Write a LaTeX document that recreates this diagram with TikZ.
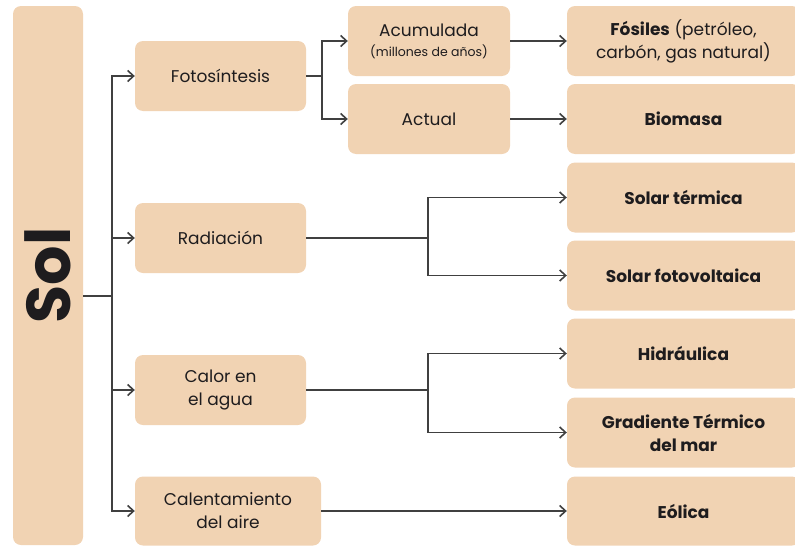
\documentclass[tikz,border=0pt]{standalone}
\usepackage{fontspec}
\setmainfont{Poppins}
\usepackage{graphicx}
\usetikzlibrary{arrows.meta}
\definecolor{durazno}{RGB}{241,211,179}
\definecolor{linea}{RGB}{64,64,64}
\definecolor{texto}{RGB}{30,28,30}
\tikzset{
  caja/.style={fill=durazno, rounded corners=8pt, text=texto, align=center,
    minimum height=70pt, inner sep=0pt, font=\fontsize{17}{23}\selectfont},
  fuente/.style={caja, minimum width=233pt, font=\fontsize{17}{23}\selectfont\bfseries},
  tramo/.style={draw=linea, line width=1.6pt},
  enlace/.style={tramo, -{Straight Barb[length=6pt,width=11pt]}}
}
\begin{document}
\begin{tikzpicture}[x=1pt,y=-1pt]
\useasboundingbox (0,0) rectangle (795,546);
\node[caja, minimum width=70pt, minimum height=539pt, font=\fontsize{62}{62}\selectfont\bfseries] (sol) at (48,275.5) {\rotatebox{90}{Sol}};
\node[caja, minimum width=171pt] (foto) at (220.5,76) {Fotosíntesis};
\node[caja, minimum width=171pt] (radia) at (220.5,238) {Radiación};
\node[caja, minimum width=171pt] (calor) at (220.5,390) {Calor en\\el agua};
\node[caja, minimum width=186pt, minimum height=69pt] (calent) at (228,511) {Calentamiento\\del aire};
\node[caja, minimum width=162pt] (acum) at (429,41) {Acumulada\\[-3pt]{\fontsize{12.5}{14}\selectfont(millones de años)}};
\node[caja, minimum width=162pt] (actual) at (429,119) {Actual};
\node[caja, minimum width=233pt] (fosiles) at (683.5,41) {{\bfseries Fósiles} (petróleo,\\carbón, gas natural)};
\node[fuente] (biomasa) at (683.5,119) {Biomasa};
\node[fuente] (stermica) at (683.5,197.5) {Solar térmica};
\node[fuente] (sfoto) at (683.5,275.5) {Solar fotovoltaica};
\node[fuente] (hidra) at (683.5,353.5) {Hidráulica};
\node[fuente] (gradi) at (683.5,432.5) {Gradiente Térmico\\del mar};
\node[fuente, minimum height=69pt] (eolica) at (683.5,511) {Eólica};
\coordinate (tronco) at (112,296);
\coordinate (rradia) at (428,238);
\coordinate (rcalor) at (428,390);
\draw[tramo] (sol.east |- tronco) -- (tronco);
\draw[enlace] (tronco) |- (foto.west);
\draw[enlace] (tronco) |- (radia.west);
\draw[enlace] (tronco) |- (calor.west);
\draw[enlace] (tronco) |- (calent.west);
\draw[tramo] (foto.east) -- ++(16,0) coordinate (rfoto);
\draw[enlace] (rfoto) |- (acum.west);
\draw[enlace] (rfoto) |- (actual.west);
\draw[enlace] (acum) -- (fosiles);
\draw[enlace] (actual) -- (biomasa);
\draw[tramo] (radia.east) -- (rradia);
\draw[enlace] (rradia) |- (stermica.west);
\draw[enlace] (rradia) |- (sfoto.west);
\draw[tramo] (calor.east) -- (rcalor);
\draw[enlace] (rcalor) |- (hidra.west);
\draw[enlace] (rcalor) |- (gradi.west);
\draw[enlace] (calent) -- (eolica);
\end{tikzpicture}
\end{document}
